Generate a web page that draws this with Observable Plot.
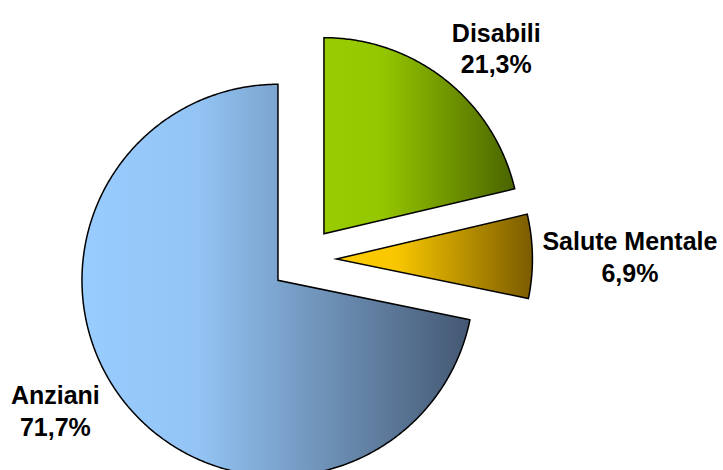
<!DOCTYPE html>
<html><head><meta charset="utf-8">
<script src="https://cdn.jsdelivr.net/npm/d3@7"></script>
<script src="https://cdn.jsdelivr.net/npm/@observablehq/plot@0.6"></script>
<style>html,body{margin:0;padding:0;background:#fff;} #chart{width:723px;height:470px;overflow:hidden;}</style>
</head><body><div id="chart"></div>
<script>
// ---- data ----
const categories = ["Disabili", "Salute Mentale", "Anziani"];
const shares = [21.3, 6.9, 71.7];
const shareLabels = ["21,3%", "6,9%", "71,7%"];

// ---- styles / layout ----
const gradientStops = [
  ["#99CC00", "#95C700", "#4A6400"],
  ["#FFCC00", "#F9C700", "#7A5B00"],
  ["#99CCFF", "#93C4F4", "#445872"]
];
const W = 723, H = 470;
const centerPx = [303, 259], radiusPx = 196;
const explode = 0.168;        // fraction of radius
const labelGap = 0.051;       // fraction of radius
const labelBottomPx = 434;    // labels are kept above this line
const fontSize = 25, lineHeight = 1.28;
const fontFamily = "'Liberation Sans', Arial, sans-serif";

// ---- pie layout ----
const rows = categories.map((c, i) => ({name: c, share: shares[i], label: shareLabels[i]}));
const arcs = d3.pie().sort(null).value(d => d.share)(rows);

const slices = arcs.map(a => {
  const mid = (a.startAngle + a.endAngle) / 2;
  const ox = Math.sin(mid) * explode, oy = Math.cos(mid) * explode;
  const pts = [[ox, oy]];
  const n = Math.max(2, Math.ceil((a.endAngle - a.startAngle) / (Math.PI / 360)));
  for (let j = 0; j <= n; j++) {
    const t = a.startAngle + (a.endAngle - a.startAngle) * j / n;
    pts.push([ox + Math.sin(t), oy + Math.cos(t)]);
  }
  pts.push([ox, oy]);
  pts.push(pts[1]);
  return {mid, pts};
});

// ---- label placement (outside end, kept inside the label area) ----
const ctx = document.createElement("canvas").getContext("2d");
ctx.font = `bold ${fontSize}px ${fontFamily}`;
const Dpx = radiusPx * (1 + explode + labelGap);
const labels = arcs.map((a, k) => {
  const w = Math.max(ctx.measureText(a.data.name).width, ctx.measureText(a.data.label).width);
  const h = fontSize * (0.716 + lineHeight);
  const place = th => {
    const ux = Math.sin(th), uy = -Math.cos(th);
    const kx = Math.sign(ux) * Math.min(1, 2 * Math.abs(ux));
    const ky = Math.sign(uy) * Math.min(1, 2 * Math.abs(uy));
    return {cx: ux * Dpx + kx * w / 2, cy: uy * Dpx + ky * h / 2};
  };
  let th = slices[k].mid;
  let b = place(th);
  let guard = 0;
  while (centerPx[1] + b.cy + h / 2 > labelBottomPx && guard++ < 400) {
    th += Math.sin(th) < 0 ? 0.002 : -0.002;
    b = place(th);
  }
  return {x: b.cx / radiusPx, y: -b.cy / radiusPx, text: a.data.name + "\n" + a.data.label};
});

const marks = slices.map((s, k) => Plot.line(s.pts, {
  x: d => d[0], y: d => d[1],
  fill: `url(#grad${k})`, stroke: "#000", strokeWidth: 1.5,
  strokeLinejoin: "miter", strokeMiterlimit: 10, strokeLinecap: "butt", curve: "linear"
}));
marks.push(Plot.text(labels, {
  x: "x", y: "y", text: "text", textAnchor: "middle", lineAnchor: "middle",
  lineHeight, fontSize, fontWeight: "bold", fontFamily, fill: "#000"
}));

const svg = Plot.plot({
  width: W, height: H,
  marginTop: 0, marginRight: 0, marginBottom: 0, marginLeft: 0,
  x: {domain: [-centerPx[0] / radiusPx, (W - centerPx[0]) / radiusPx], axis: null},
  y: {domain: [-(H - centerPx[1]) / radiusPx, centerPx[1] / radiusPx], axis: null},
  style: {background: "#fff"},
  marks
});

const defs = d3.select(svg).insert("defs", ":first-child");
gradientStops.forEach((stops, k) => {
  const g = defs.append("linearGradient").attr("id", `grad${k}`)
    .attr("x1", 0).attr("y1", 0).attr("x2", 1).attr("y2", 0);
  [0, 0.3, 1].forEach((o, j) => g.append("stop").attr("offset", o).attr("stop-color", stops[j]));
});

document.getElementById("chart").appendChild(svg);
</script>
</body></html>
